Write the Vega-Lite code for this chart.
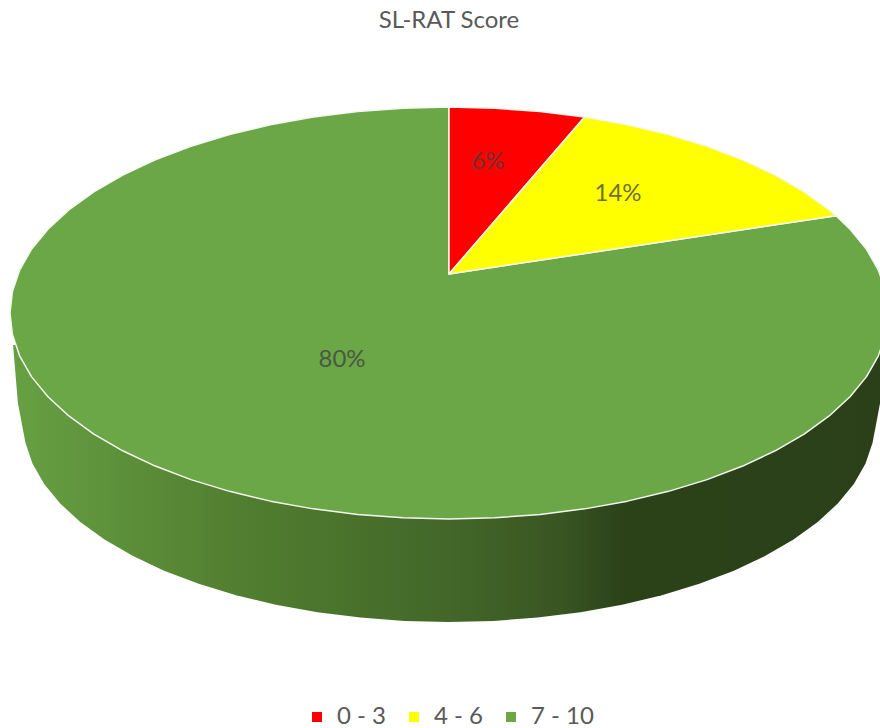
{
  "$schema": "https://vega.github.io/schema/vega-lite/v6.json",
  "width": 880,
  "height": 728,
  "padding": 0,
  "autosize": {"type": "none"},
  "background": "white",
  "view": {"stroke": null},
  "config": {"font": "Lato"},
  "title": {
    "text": "SL-RAT Score",
    "anchor": "middle",
    "frame": "group",
    "offset": -33,
    "dx": 9,
    "fontSize": 24,
    "fontWeight": "normal",
    "color": "#595959"
  },
  "projection": {"type": "identity", "reflectY": true, "scale": 439, "translate": [449, 274]},
  "layer": [
    {
      "data": {
        "values": {
          "type": "FeatureCollection",
          "features": [
            {
              "type": "Feature",
              "properties": {"part": "rim"},
              "geometry": {
                "type": "Polygon",
                "coordinates": [[
                  [-0.993, -0.162], [-0.982, -0.294],
                  [-0.9647, -0.3847], [-0.9488, -0.4318], [-0.9226, -0.4779], [-0.8861, -0.5224], [-0.84, -0.5649],
                  [-0.7847, -0.6049], [-0.7208, -0.6419], [-0.649, -0.6757], [-0.5702, -0.7057], [-0.485, -0.7317],
                  [-0.3945, -0.7533], [-0.2997, -0.7704], [-0.2017, -0.7827], [-0.1014, -0.7902], [0, -0.7927],
                  [0.1014, -0.7902], [0.2017, -0.7827], [0.2997, -0.7704], [0.3945, -0.7533], [0.485, -0.7317],
                  [0.5702, -0.7057], [0.649, -0.6757], [0.7208, -0.6419], [0.7847, -0.6049], [0.84, -0.5649],
                  [0.8861, -0.5224], [0.9226, -0.4779], [0.9488, -0.4318], [0.9647, -0.3847],
                  [0.982, -0.294], [0.993, -0.162], [-0.993, -0.162]
                ]]
              }
            }
          ]
        },
        "format": {"type": "json", "property": "features"}
      },
      "mark": {
        "type": "geoshape",
        "stroke": null,
        "fill": {
          "gradient": "linear",
          "x1": 0, "y1": 0, "x2": 1, "y2": 0,
          "stops": [
            {"offset": 0, "color": "#67a043"},
            {"offset": 0.25, "color": "#527f30"},
            {"offset": 0.5, "color": "#426729"},
            {"offset": 0.63, "color": "#395522"},
            {"offset": 0.7, "color": "#2b4219"},
            {"offset": 1, "color": "#2b4019"}
          ]
        }
      }
    },
    {
      "data": {
        "values": {
          "type": "FeatureCollection",
          "features": [
            {
              "type": "Feature",
              "properties": {"range": "7 - 10", "share": 0.8},
              "geometry": {
                "type": "Polygon",
                "coordinates": [[
                  [0, 0], [0, 0.3804],
                  [-0.1045, 0.3778], [-0.2079, 0.3701], [-0.309, 0.3574], [-0.4067, 0.3398], [-0.5, 0.3175],
                  [-0.5878, 0.2908], [-0.6691, 0.2599], [-0.7431, 0.2251], [-0.809, 0.187], [-0.866, 0.1458],
                  [-0.9135, 0.102], [-0.9511, 0.0562], [-0.9781, 0.0087], [-0.9945, -0.0398], [-1, -0.0888],
                  [-0.9945, -0.1378], [-0.9781, -0.1863], [-0.9511, -0.2338], [-0.9135, -0.2796], [-0.866, -0.3234],
                  [-0.809, -0.3646], [-0.7431, -0.4027], [-0.6691, -0.4375], [-0.5878, -0.4684], [-0.5, -0.4951],
                  [-0.4067, -0.5174], [-0.309, -0.535], [-0.2079, -0.5477], [-0.1045, -0.5554], [0, -0.558],
                  [0.1045, -0.5554], [0.2079, -0.5477], [0.309, -0.535], [0.4067, -0.5174], [0.5, -0.4951],
                  [0.5878, -0.4684], [0.6691, -0.4375], [0.7431, -0.4027], [0.809, -0.3646], [0.866, -0.3234],
                  [0.9135, -0.2796], [0.9511, -0.2338], [0.9781, -0.1863], [0.9945, -0.1378], [1, -0.0888],
                  [0.9945, -0.0398], [0.9781, 0.0087], [0.9511, 0.0562], [0.9135, 0.102], [0.8815, 0.1329],
                  [0, 0]
                ]]
              }
            },
            {
              "type": "Feature",
              "properties": {"range": "0 - 3", "share": 0.06},
              "geometry": {
                "type": "Polygon",
                "coordinates": [[
                  [0, 0], [0, 0.3804], [0.1045, 0.3778], [0.2079, 0.3701], [0.309, 0.3574], [0, 0]
                ]]
              }
            },
            {
              "type": "Feature",
              "properties": {"range": "4 - 6", "share": 0.14},
              "geometry": {
                "type": "Polygon",
                "coordinates": [[
                  [0, 0], [0.309, 0.3574], [0.4067, 0.3398], [0.5, 0.3175], [0.5878, 0.2908], [0.6691, 0.2599],
                  [0.7431, 0.2251], [0.809, 0.187], [0.866, 0.1458], [0.8815, 0.1329], [0, 0]
                ]]
              }
            }
          ]
        },
        "format": {"type": "json", "property": "features"}
      },
      "mark": {"type": "geoshape", "stroke": "#f4f8ee", "strokeWidth": 1.5, "strokeJoin": "round"},
      "encoding": {
        "color": {
          "field": "properties.range",
          "type": "nominal",
          "scale": {"domain": ["0 - 3", "4 - 6", "7 - 10"], "range": ["#ff0000", "#ffff00", "#6ba747"]},
          "legend": {
            "title": null,
            "orient": "none",
            "legendX": 305,
            "legendY": 705,
            "direction": "horizontal",
            "symbolType": "square",
            "symbolSize": 100,
            "symbolStrokeWidth": 0,
            "symbolOffset": 0,
            "labelFontSize": 24,
            "labelColor": "#595959",
            "labelOffset": 8,
            "columnPadding": 15
          }
        }
      }
    },
    {
      "data": {
        "values": [
          {"range": "0 - 3", "share": 0.06, "lon": 0.0888, "lat": 0.2552},
          {"range": "4 - 6", "share": 0.14, "lon": 0.385, "lat": 0.1823},
          {"range": "7 - 10", "share": 0.8, "lon": -0.2437, "lat": -0.1958}
        ]
      },
      "mark": {"type": "text", "fontSize": 24, "color": "#404040", "opacity": 0.75, "align": "center", "baseline": "middle"},
      "encoding": {
        "longitude": {"field": "lon", "type": "quantitative"},
        "latitude": {"field": "lat", "type": "quantitative"},
        "text": {"field": "share", "type": "quantitative", "format": ".0%"}
      }
    }
  ]
}
